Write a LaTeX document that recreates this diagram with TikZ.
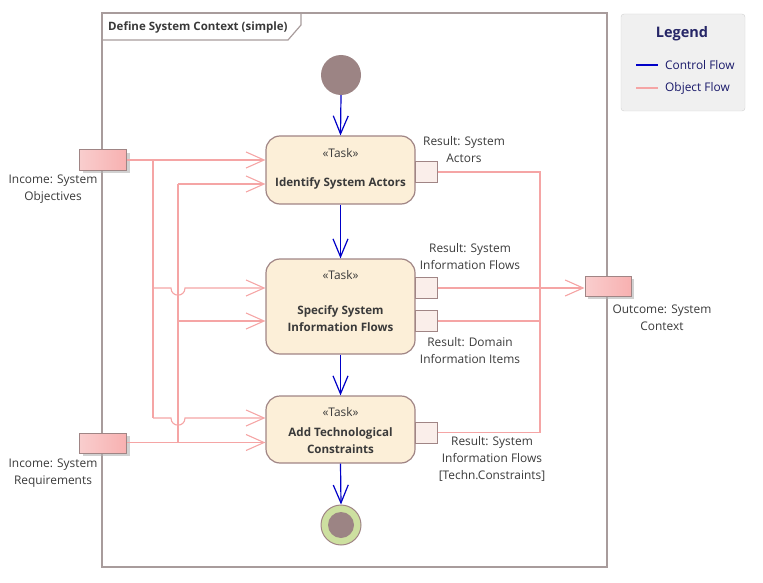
\documentclass[tikz,border=0pt]{standalone}
\usepackage{fontspec}
\setmainfont{Open Sans}
\usetikzlibrary{arrows.meta,shadows}
\definecolor{objc}{HTML}{F5A5A5}
\definecolor{ctlc}{HTML}{0000C8}
\definecolor{taskfill}{HTML}{FCEFD8}
\definecolor{brd}{HTML}{A08585}
\definecolor{nodec}{HTML}{9C8484}
\definecolor{finc}{HTML}{CDE0A0}
\definecolor{pinfill}{HTML}{FAEEEA}
\definecolor{txt}{HTML}{3A3A3A}
\definecolor{frm}{HTML}{A89C9C}
\begin{document}
\begin{tikzpicture}[x=1pt,y=-1pt,
  font=\fontsize{11.9}{17}\selectfont, text=txt,
  taskbox/.style={draw=brd,line width=1.2pt,fill=taskfill,rounded corners=14pt,minimum width=149pt,inner sep=0pt},
  pinbox/.style={draw=brd,line width=1pt,fill=pinfill,minimum width=22pt,minimum height=21pt,inner sep=0pt},
  parbox/.style={draw=brd,line width=1pt,left color=objc!55!white,right color=objc!95!red!80!white,minimum width=47pt,minimum height=20pt,inner sep=0pt,
     drop shadow={shadow xshift=3pt,shadow yshift=-3pt,fill=gray!60,opacity=0.6}},
  lbl/.style={align=center,inner sep=0pt},
  bl/.style={lbl,font=\fontsize{11.6}{17}\selectfont\bfseries},
  objf/.style={draw=objc,line width=1.1pt},
  objarr/.style={objf,-{Straight Barb[length=18pt,width=16pt,line width=1.1pt]}},
  ctlarr/.style={draw=ctlc,line width=1.2pt,-{Straight Barb[length=18pt,width=15pt,line width=1.2pt]}}
]
\useasboundingbox (0,0) rectangle (763,583);
% frame
\draw[frm,line width=2pt] (102,13) rectangle (607,567);
\draw[frm,line width=1.2pt] (102,40) -- (288,40) -- (301,25) -- (301,13);
\node[anchor=west,inner sep=0pt,font=\fontsize{11.5}{14}\selectfont\bfseries] (title) at (108,27) {Define System Context (simple)};
% legend
\node[draw=black!18,fill=black!6,rounded corners=3pt,minimum width=124pt,minimum height=97pt,inner sep=0pt] (leg) at (683,62.5) {};
\node[font=\fontsize{14.5}{16}\selectfont\bfseries,text=blue!30!black!85] (legt) at (682,34) {Legend};
\coordinate (lc1) at (636,65); \coordinate (lc2) at (658,65);
\draw[ctlc,line width=1.2pt] (lc1) -- (lc2);
\node[anchor=west,inner sep=0pt,text=blue!35!black!90] (lct) at (665,65) {Control Flow};
\coordinate (lo1) at (636,88); \coordinate (lo2) at (658,88);
\draw[objc,line width=1.2pt] (lo1) -- (lo2);
\node[anchor=west,inner sep=0pt,text=blue!35!black!90] (lot) at (665,88) {Object Flow};
% initial/final
\node[circle,fill=nodec,minimum size=40pt,inner sep=0pt] (init) at (341,75) {};
\node[circle,draw=brd,fill=finc,line width=1pt,minimum size=40pt,inner sep=0pt] (fin) at (341,525) {};
\node[circle,fill=nodec,minimum size=26pt,inner sep=0pt] (fini) at (341,525) {};
% tasks
\node[taskbox,minimum height=68pt] (t1) at (340.5,170) {};
\node[lbl] (t1s) at (340.5,153) {«Task»};
\node[bl] (t1n) at (340.5,183) {Identify System Actors};
\node[taskbox,minimum height=95pt] (t2) at (340.5,306.5) {};
\node[lbl] (t2s) at (340.5,275) {«Task»};
\node[bl] (t2n) at (340.5,318.5) {Specify System\\Information Flows};
\node[taskbox,minimum height=67pt] (t3) at (340.5,429.5) {};
\node[lbl] (t3s) at (340.5,412) {«Task»};
\node[bl] (t3n) at (340.5,441) {Add Technological\\Constraints};
% pins
\node[pinbox] (p1) at (426,172) {};
\node[pinbox] (p2a) at (426,288) {};
\node[pinbox] (p2b) at (426,321) {};
\node[pinbox] (p3) at (426,432.5) {};
% parameters
\node[parbox] (in1) at (103,160) {};
\node[parbox] (in2) at (103,443) {};
\node[parbox,minimum width=46pt] (out) at (608,286) {};
% labels
\node[lbl] (lp1) at (464,149.5) {Result: System\\Actors};
\node[lbl] (lp2a) at (470,257) {Result: System\\Information Flows};
\node[lbl] (lp2b) at (470,350.5) {Result: Domain\\Information Items};
\node[lbl] (lp3) at (492,458.5) {Result: System\\Information Flows\\{[Techn.Constraints]}};
\node[lbl] (lin1) at (53,189.5) {Income: System\\Objectives};
\node[lbl] (lin2) at (53,473) {Income: System\\Requirements};
\node[lbl] (lout) at (662,317.5) {Outcome: System\\Context};
% control flows
\draw[ctlarr] (init.south) -- (t1.north);
\draw[ctlarr] (t1.south) -- (t2.north);
\draw[ctlarr] (t2.south) -- (t3.north);
\draw[ctlarr] (t3.south) -- (fin.north);
% object flows: inputs
\coordinate (a1) at (153,160);
\coordinate (a2) at (153,288);
\coordinate (a3) at (153,418);
\coordinate (b1) at (178,184);
\coordinate (b2) at (178,321);
\coordinate (b3) at (178,442.5);
\draw[objarr] (in1.east) -- (in1.east -| t1.west);
\draw[objf] (a1) -- (a3);
\draw[objarr] (a2) -- (171,288) .. controls (171,297.5) and (185,297.5) .. (185,288) -- (a2 -| t2.west);
\draw[objarr] (a3) -- (171,418) .. controls (171,427.5) and (185,427.5) .. (185,418) -- (a3 -| t3.west);
\draw[objarr] (in2.east |- b3) -- (b3 -| t3.west);
\draw[objf] (b3) -- (b1);
\draw[objarr] (b1) -- (b1 -| t1.west);
\draw[objarr] (b2) -- (b2 -| t2.west);
% object flows: outputs
\coordinate (c1) at (540,172);
\coordinate (c3) at (540,432.5);
\draw[objf] (p1.east) -- (c1) -- (c3);
\draw[objf] (p3.east) -- (c3);
\draw[objf] (p2b.east) -- (p2b.east -| c1);
\draw[objarr] (p2a.east) -- (p2a.east -| out.west);
\end{tikzpicture}
\end{document}
